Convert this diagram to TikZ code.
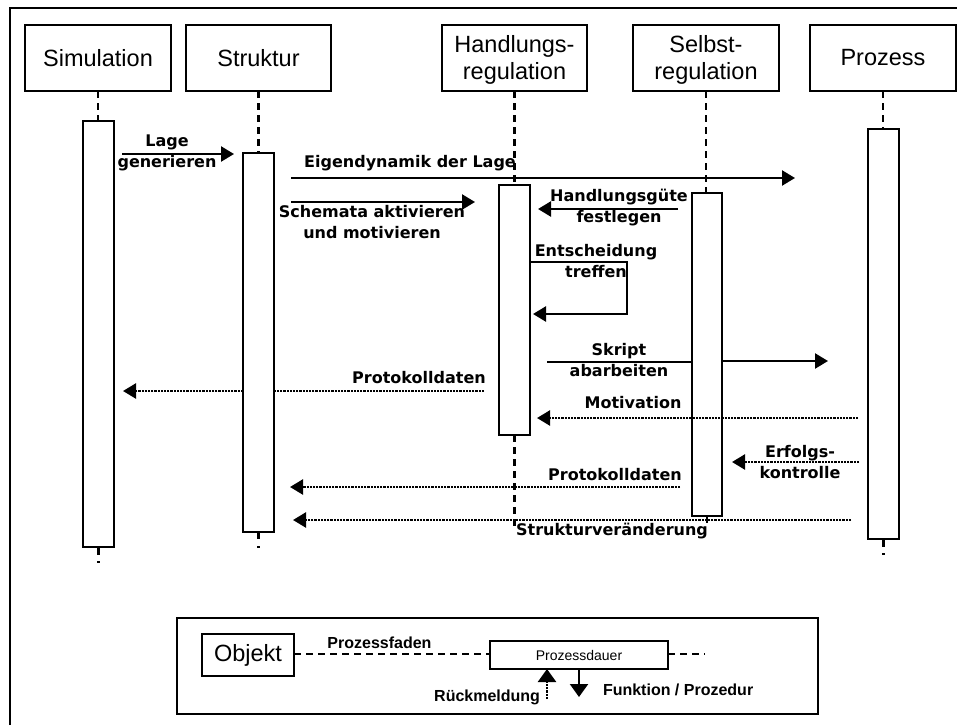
\documentclass[tikz,border=0pt]{standalone}
\usepackage{fontspec}
\setmainfont{Liberation Sans}
\newfontfamily\msgfont{DejaVu Sans}
\usetikzlibrary{arrows.meta,calc}
% two-line header text, set a little lower inside its box
\newcommand{\twolinehdr}[2]{\raisebox{-3pt}[\height][\depth]{\begin{tabular}{@{}c@{}}#1\\#2\end{tabular}}}

\begin{document}
\begin{tikzpicture}[x=1pt,y=-1pt,
  every node/.style={inner sep=0pt, outer sep=0pt},
  header/.style={draw, line width=1.2pt, minimum width=146pt, minimum height=66pt,
    font=\fontsize{23.5}{27}\selectfont},
  actbar/.style={draw, fill=white, line width=1.2pt, minimum width=31pt},
  lifeline/.style={line width=2.5pt, dash pattern=on 7pt off 5pt},
  lifetail/.style={line width=2.5pt},
  msgtext/.style={align=center, font=\msgfont\bfseries\fontsize{16}{21}\selectfont},
  legtext/.style={font=\bfseries\fontsize{16}{19}\selectfont},
  solidmsg/.style={line width=2.4pt},
  call/.style={solidmsg, -{Triangle[length=13pt,width=15pt]}},
  dotmsg/.style={line width=2.4pt, dash pattern=on 2.2pt off 1pt},
  reply/.style={dotmsg, -{Triangle[length=13pt,width=15pt]}},
  legcall/.style={line width=2.2pt, -{Triangle[length=13pt,width=18pt]}},
  legreply/.style={dotmsg, -{Triangle[length=13pt,width=18pt]}}
]
\useasboundingbox (0,0) rectangle (957,725);
\fill[white] (0,0) rectangle (957,725);

% outer frame (left and top edges)
\draw[line width=2.7pt] (10,725) -- (10,8) -- (957,8);

% object headers
\node[header] (sim) at (98,58) {Simulation};
\node[header, minimum width=145pt] (str) at (258.5,58) {Struktur};
\node[header, minimum width=145pt] (hdl) at (514.5,58) {\twolinehdr{Handlungs-}{regulation}};
\node[header] (slb) at (706,58) {\twolinehdr{Selbst-}{regulation}};
\node[header] (prz) at (883,58) {Prozess};

% activation bar positions
\path
  node[minimum width=31pt, minimum height=426pt] (simbar) at (98.5,334) {}
  node[minimum width=31pt, minimum height=379pt] (strbar) at (258.5,342.5) {}
  node[minimum width=31pt, minimum height=250pt] (hdlbar) at (514.5,310) {}
  node[minimum width=30pt, minimum height=323pt] (slbbar) at (707,354.5) {}
  node[minimum width=31pt, minimum height=410pt] (przbar) at (883.5,334) {};

% lifelines
\draw[lifeline] (sim.south) -- (sim.south |- simbar.north);
\draw[lifeline] (str.south) -- (str.south |- strbar.north);
\draw[lifeline] (hdl.south) -- (hdl.south |- hdlbar.north);
\draw[lifeline] (slb.south) -- (slb.south |- slbbar.north);
\draw[lifeline] (prz.south) -- (prz.south |- przbar.north);
\draw[lifetail] (simbar.south) -- ++(0,8);
\draw[lifetail] ($(simbar.south)+(0,14)$) -- ++(0,2);
\draw[lifetail] (strbar.south) -- ++(0,7);
\draw[lifetail] ($(strbar.south)+(0,14)$) -- ++(0,2);
\draw[lifeline] (hdlbar.south) -- ++(0,92);
\draw[lifetail] (slbbar.south) -- ++(0,7);
\draw[lifetail] (przbar.south) -- ++(0,8);
\draw[lifetail] ($(przbar.south)+(0,14)$) -- ++(0,2);

% activation bars
\node[actbar, minimum height=426pt] at (simbar) {};
\node[actbar, minimum height=379pt] at (strbar) {};
\node[actbar, minimum height=250pt] at (hdlbar) {};
\node[actbar, minimum width=30pt, minimum height=323pt] at (slbbar) {};
\node[actbar, minimum height=410pt] at (przbar) {};

% messages
\draw[call] ($(simbar.east |- 0,154)+(8,0)$) -- ($(strbar.west |- 0,154)+(-9,0)$);
\node[msgtext] at (167,152.5) {Lage\\generieren};

\draw[call] ($(strbar.east |- 0,178)+(17,0)$) -- ($(slbbar.east |- 0,178)+(73,0)$);
\node[msgtext] at (410,163) {Eigendynamik der Lage};

\draw[call] ($(strbar.east |- 0,202)+(17,0)$) -- ($(hdlbar.west |- 0,202)+(-24,0)$);
\node[msgtext] at (372,222.5) {Schemata aktivieren\\und motivieren};

\draw[call] ($(slbbar.west |- 0,209)+(-14,0)$) -- ($(hdlbar.east |- 0,209)+(8,0)$);
\node[msgtext] at (619,207.5) {Handlungsgüte\\festlegen};

\draw[call] (hdlbar.east |- 0,262) -- ++(97,0) -- ++(0,52) -- ($(hdlbar.east |- 0,314)+(3,0)$);
\node[msgtext] at (596,261.5) {Entscheidung\\treffen};

\draw[solidmsg] ($(hdlbar.east |- 0,362)+(17,0)$) -- (slbbar.west |- 0,362);
\draw[call] (slbbar.east |- 0,361) -- ($(slbbar.east |- 0,361)+(106,0)$);
\node[msgtext] at (619,360.5) {Skript\\abarbeiten};

\draw[dotmsg] ($(hdlbar.west |- 0,391)+(-15,0)$) -- (strbar.east |- 0,391);
\draw[reply] (strbar.west |- 0,391) -- ($(simbar.east |- 0,391)+(9,0)$);
\node[msgtext] at (419,378) {Protokolldaten};

\draw[reply] ($(przbar.west |- 0,418)+(-10,0)$) -- ($(hdlbar.east |- 0,418)+(7,0)$);
\node[msgtext] at (633,403) {Motivation};

\draw[reply] ($(przbar.west |- 0,462)+(-9,0)$) -- ($(slbbar.east |- 0,462)+(10,0)$);
\node[msgtext] at (800,462) {Erfolgs-\\kontrolle};

\draw[reply] ($(slbbar.west |- 0,487)+(-12,0)$) -- ($(strbar.east |- 0,487)+(16,0)$);
\node[msgtext] at (615,475) {Protokolldaten};

\draw[reply] ($(przbar.west |- 0,520)+(-17,0)$) -- ($(strbar.east |- 0,520)+(19,0)$);
\node[msgtext] at (612,531) {Strukturveränderung};

% legend
\node[draw, line width=1.2pt, minimum width=641pt, minimum height=96pt] (legend) at (497.5,666) {};
\node[draw, line width=1.2pt, minimum width=92pt, minimum height=42pt,
  font=\fontsize{23.5}{27}\selectfont] (obj) at (248,655) {Objekt};
\node[draw, line width=1.2pt, minimum width=178pt, minimum height=28pt,
  font=\fontsize{14}{16}\selectfont] (dauer) at (579,655) {Prozessdauer};
\draw[lifeline, line width=2.3pt] (obj.east |- 0,654) -- (dauer.west |- 0,654);
\coordinate (fadenend) at (705,654);
\draw[lifeline, line width=1.8pt] (dauer.east |- fadenend) -- (fadenend);
\node[legtext] at (379.5,643) {Prozessfaden};
\coordinate (rueck) at (547,699);
\draw[legreply] (rueck) -- (rueck |- dauer.south);
\node[legtext, anchor=east] at (540,697) {Rückmeldung};
\coordinate (funk) at (579,697);
\draw[legcall] (dauer.south) -- (funk);
\node[legtext, anchor=west] at (603,690) {Funktion / Prozedur};
\end{tikzpicture}
\end{document}
